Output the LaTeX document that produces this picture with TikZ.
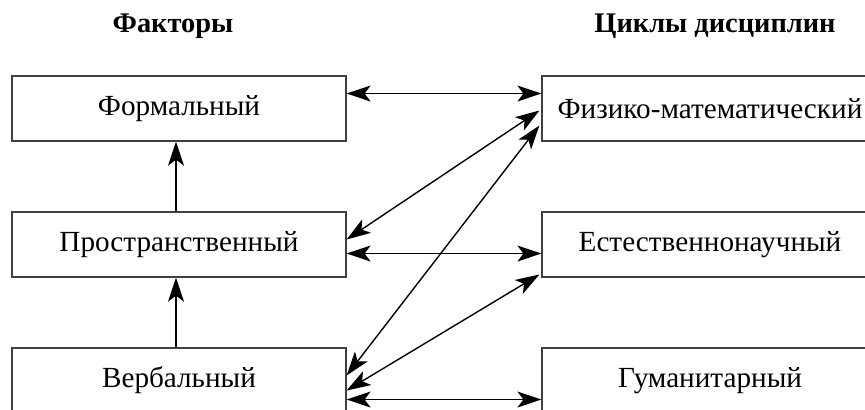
\documentclass[tikz,border=0pt]{standalone}
\usepackage{fontspec}
\setmainfont{Liberation Serif}
\usepackage{tikz}
\usetikzlibrary{calc}
\usetikzlibrary{shapes,arrows.meta}

\tikzset{
  tip/.tip={Stealth[length=12pt,width=8pt,inset=3pt]}
}

\begin{document}
\begin{tikzpicture}[x=0.5pt,y=-0.5pt]
				\tikzstyle{every node}=[font=\rmfamily\fontsize{14.6}{16}\selectfont]
				\tikzstyle{factorbox}=[draw=black!75, line width=0.6pt, minimum width=167pt, minimum height=32.5pt, inner sep=0pt]
				\tikzstyle{cyclebox}=[draw=black!75, line width=0.6pt, minimum width=168pt, minimum height=32.5pt, inner sep=0pt]
				\tikzstyle{title}=[font=\rmfamily\bfseries\fontsize{14.2}{16}\selectfont]
				\tikzstyle{link}=[line width=0.7pt, tip-tip]
				\tikzstyle{uplink}=[line width=0.7pt, -tip]
				
				\useasboundingbox (0,0) rectangle (865,409);
				\clip (0,0) rectangle (865,409);
				
				\node[title] (fakt) at (173,26) {Факторы};
				\node[title] (cikl) at (715,26) {Циклы дисциплин};
				
				\node[factorbox] (form) at (179,108.5) {Формальный};
				\node[factorbox] (pros) at (179,244.5) {Пространственный};
				\node[factorbox] (verb) at (179,380.5) {Вербальный};
				
				\node[cyclebox] (fiz) at (710,108.5) {Физико-математический};
				\node[cyclebox] (est) at (710,244.5) {Естественнонаучный};
				\node[cyclebox] (gum) at (710,380.5) {Гуманитарный};
				
				\draw [uplink] ($(verb.north)+(-3,0)$) -- ($(pros.south)+(-3,0)$);
				\draw [uplink] ($(pros.north)+(-3,0)$) -- ($(form.south)+(-3,0)$);
				
				\draw [link] ($(form.east)+(0,-15)$) -- ($(fiz.west)+(0,-15)$);
				\draw [link] ($(pros.east)+(0,-5)$) -- ($(fiz.west)+(-2,2)$);
				\draw [link] ($(verb.east)+(0,-5)$) -- ($(fiz.west)+(-2,17)$);
				\draw [link] ($(pros.east)+(0,9)$) -- ($(est.west)+(0,9)$);
				\draw [link] ($(verb.east)+(0,10)$) -- ($(est.west)+(-2,30)$);
				\draw [link] ($(verb.east)+(0,19)$) -- ($(gum.west)+(0,19)$);
				
				\end{tikzpicture}
\end{document}
